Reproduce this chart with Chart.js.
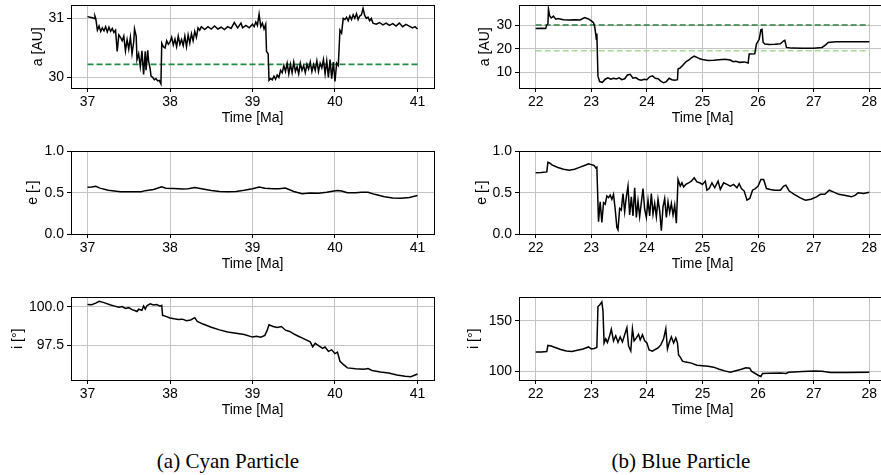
<!DOCTYPE html>
<html>
<head>
<meta charset="utf-8">
<script src="https://cdn.jsdelivr.net/npm/chart.js@4.4.1/dist/chart.umd.min.js"></script>
<style>
  html, body { margin: 0; padding: 0; background: #fff; overflow: hidden; width: 881px; height: 475px; }
  canvas { position: absolute; }
  .cap { position: absolute; font-family: "Liberation Serif", serif; font-size: 21px; line-height: 24px; white-space: nowrap; transform: translateX(-50%); color: #000; }
</style>
</head>
<body>
<canvas id="c1"></canvas>
<canvas id="c2"></canvas>
<canvas id="c3"></canvas>
<canvas id="c4"></canvas>
<canvas id="c5"></canvas>
<canvas id="c6"></canvas>
<div class="cap" style="left:228px; top:449px;">(a) Cyan Particle</div>
<div class="cap" style="left:681px; top:449px;">(b) Blue Particle</div>
<script>
// ---- cyan particle (left column) ----
const cyanTimeA = [37.00,37.03,37.06,37.08,37.09,37.10,37.12,37.14,37.16,37.18,37.20,37.22,37.24,37.26,37.28,37.30,37.32,37.34,37.36,37.38,
  37.40,37.42,37.44,37.46,37.48,37.50,37.52,37.54,37.56,37.57,37.59,37.60,37.62,37.64,37.66,37.68,37.70,37.71,37.73,37.74,
  37.76,37.77,37.79,37.81,37.83,37.85,37.87,37.89,37.90,37.92,37.94,37.96,37.98,38.00,38.02,38.04,38.06,38.08,38.10,38.12,
  38.14,38.16,38.18,38.20,38.22,38.24,38.26,38.28,38.30,38.32,38.34,38.36,38.38,38.42,38.46,38.50,38.54,38.58,38.62,38.66,
  38.70,38.74,38.78,38.82,38.86,38.88,38.92,38.96,39.00,39.02,39.04,39.06,39.08,39.10,39.12,39.14,39.16,39.17,39.19,39.20,
  39.22,39.24,39.26,39.28,39.30,39.32,39.34,39.36,39.38,39.40,39.42,39.44,39.46,39.48,39.50,39.52,39.54,39.56,39.58,39.60,
  39.62,39.64,39.66,39.68,39.70,39.72,39.74,39.76,39.78,39.80,39.82,39.84,39.86,39.88,39.90,39.92,39.94,39.96,39.98,40.00,
  40.02,40.04,40.06,40.08,40.10,40.12,40.14,40.16,40.18,40.20,40.22,40.24,40.26,40.28,40.30,40.32,40.34,40.36,40.38,40.40,
  40.42,40.44,40.46,40.50,40.54,40.58,40.62,40.66,40.70,40.74,40.78,40.82,40.86,40.90,40.94,40.97,41.00];
const cyanA = [31.03,31.02,31.01,31.00,31.04,31.00,30.80,30.87,30.78,30.84,30.79,30.86,30.77,30.85,30.78,30.83,30.76,30.80,30.44,30.72,
  30.68,30.62,30.70,30.45,30.64,30.48,30.68,30.40,30.60,30.82,30.70,30.30,30.40,30.18,30.45,30.05,30.44,30.12,30.46,30.28,
  30.14,30.02,30.00,29.96,29.98,29.94,29.95,29.89,30.58,30.52,30.50,30.62,30.56,30.60,30.68,30.55,30.65,30.52,30.70,30.56,
  30.64,30.54,30.70,30.52,30.72,30.58,30.74,30.62,30.78,30.68,30.84,30.80,30.86,30.81,30.86,30.82,30.87,30.82,30.85,30.81,
  30.86,30.83,30.93,30.84,30.92,30.84,30.88,30.84,30.90,30.86,30.94,30.88,31.07,30.86,30.92,30.82,30.90,30.44,30.40,29.95,
  29.98,29.96,30.02,29.97,30.04,30.00,30.12,30.08,30.20,30.10,30.24,30.06,30.22,30.08,30.26,30.10,30.18,30.06,30.24,30.12,
  30.20,30.08,30.22,30.14,30.26,30.10,30.22,30.12,30.28,30.10,30.24,30.16,30.30,30.06,30.28,30.00,30.30,29.98,30.26,29.93,
  30.24,30.20,30.80,30.75,31.00,30.98,31.02,30.96,31.04,30.98,31.06,31.00,31.08,30.98,31.04,31.06,31.17,31.05,31.00,31.02,
  30.96,31.00,30.92,30.90,30.93,30.89,30.92,30.88,30.91,30.87,30.92,30.86,30.90,30.87,30.84,30.86,30.82];
const cyanRefA = 30.22;

const cyanTimeE = [37.00,37.05,37.10,37.15,37.25,37.40,37.55,37.65,37.70,37.80,37.90,37.95,38.05,38.15,38.22,38.30,38.40,38.50,38.60,38.70,
  38.80,38.90,39.00,39.08,39.15,39.25,39.32,39.40,39.50,39.60,39.70,39.80,39.90,39.95,40.03,40.08,40.15,40.25,40.32,40.40,
  40.48,40.60,40.70,40.80,40.90,41.00];
const cyanE = [0.565,0.570,0.578,0.555,0.530,0.512,0.510,0.512,0.525,0.540,0.572,0.555,0.552,0.545,0.548,0.562,0.545,0.528,0.515,0.510,
  0.515,0.530,0.548,0.568,0.555,0.548,0.548,0.556,0.515,0.488,0.495,0.494,0.505,0.515,0.528,0.520,0.500,0.498,0.505,0.506,
  0.480,0.450,0.435,0.432,0.442,0.465];

const cyanTimeI = [37.00,37.05,37.10,37.14,37.20,37.28,37.33,37.38,37.42,37.46,37.50,37.54,37.58,37.60,37.62,37.66,37.68,37.70,37.72,37.76,
  37.80,37.84,37.88,37.90,37.91,37.95,38.00,38.05,38.10,38.15,38.20,38.25,38.30,38.33,38.40,38.50,38.60,38.70,38.80,38.90,
  39.00,39.05,39.10,39.15,39.18,39.20,39.25,39.30,39.35,39.40,39.45,39.50,39.55,39.60,39.65,39.70,39.73,39.76,39.80,39.85,
  39.88,39.92,39.96,40.00,40.03,40.06,40.10,40.15,40.25,40.35,40.40,40.45,40.55,40.65,40.75,40.85,40.92,41.00];
const cyanI = [100.15,100.14,100.25,100.36,100.28,100.12,100.05,99.98,100.02,99.90,99.95,99.82,99.75,99.70,99.85,99.78,100.05,99.85,100.08,100.20,
  100.12,100.15,100.05,100.10,99.45,99.38,99.28,99.22,99.18,99.20,99.10,99.15,99.30,99.05,98.88,98.67,98.50,98.36,98.28,98.20,
  98.03,98.08,98.02,98.14,98.50,98.83,98.72,98.65,98.72,98.48,98.40,98.24,98.10,97.98,97.85,97.72,97.40,97.62,97.48,97.30,
  97.38,97.10,97.20,96.95,97.05,96.45,96.25,96.02,95.96,95.93,95.98,95.85,95.75,95.68,95.55,95.48,95.45,95.62];

// ---- blue particle (right column) ----
const blueTimeA = [22.00,22.10,22.18,22.20,22.22,22.23,22.25,22.28,22.32,22.36,22.40,22.50,22.60,22.70,22.80,22.88,22.95,23.00,23.04,23.06,
  23.08,23.09,23.10,23.12,23.15,23.20,23.25,23.30,23.35,23.40,23.45,23.50,23.55,23.60,23.65,23.70,23.75,23.80,23.85,23.90,
  23.95,24.00,24.05,24.10,24.15,24.20,24.25,24.30,24.35,24.40,24.45,24.50,24.55,24.56,24.60,24.65,24.70,24.75,24.80,24.85,
  24.90,24.95,25.00,25.10,25.20,25.30,25.40,25.50,25.55,25.60,25.67,25.75,25.82,25.84,25.94,25.97,26.02,26.05,26.07,26.09,
  26.12,26.20,26.30,26.40,26.46,26.48,26.51,26.60,26.80,27.00,27.15,27.22,27.26,27.40,27.60,27.80,28.00];
const blueA = [28.6,28.7,28.6,30.0,30.5,36.8,34.0,33.0,33.8,32.5,32.8,32.3,32.1,32.3,32.2,33.2,32.6,31.8,31.0,29.5,
  26.2,24.0,26.5,8.5,6.2,5.9,7.2,7.8,7.2,7.6,7.3,7.8,7.0,7.4,9.0,9.3,7.6,7.9,7.1,6.8,
  7.2,7.0,8.2,8.6,7.6,7.4,6.4,5.7,6.2,7.6,7.0,6.8,7.0,11.5,12.0,13.2,14.5,15.2,16.2,16.9,
  16.4,15.8,15.5,15.1,15.2,15.4,15.6,15.3,14.6,14.8,14.3,14.5,14.0,17.8,17.9,22.0,24.0,28.0,28.2,22.8,
  22.0,21.8,21.9,22.1,23.4,23.6,20.6,20.3,20.2,20.2,20.6,21.8,22.7,23.0,23.0,23.0,23.0];
const blueRefNeptune = 30.07;
const blueRefUranus = 19.19;

const blueTimeE = [22.00,22.10,22.20,22.22,22.25,22.30,22.40,22.50,22.60,22.70,22.80,22.90,22.95,23.00,23.05,23.08,23.10,23.13,23.16,23.19,
  23.22,23.25,23.28,23.31,23.34,23.37,23.40,23.43,23.46,23.48,23.51,23.54,23.57,23.60,23.63,23.66,23.69,23.72,23.75,23.78,
  23.81,23.84,23.87,23.90,23.93,23.96,23.99,24.02,24.05,24.08,24.11,24.14,24.17,24.20,24.23,24.26,24.29,24.32,24.35,24.38,
  24.41,24.44,24.47,24.50,24.53,24.56,24.60,24.63,24.66,24.70,24.75,24.80,24.85,24.90,24.95,25.00,25.05,25.08,25.12,25.17,
  25.22,25.28,25.32,25.38,25.44,25.50,25.56,25.62,25.66,25.70,25.75,25.80,25.85,25.90,25.95,26.00,26.05,26.10,26.15,26.22,
  26.30,26.40,26.46,26.50,26.56,26.65,26.75,26.85,26.95,27.05,27.12,27.20,27.28,27.35,27.45,27.55,27.68,27.75,27.80,27.90,28.00];
const blueE = [0.743,0.745,0.752,0.868,0.860,0.834,0.805,0.783,0.772,0.785,0.810,0.835,0.850,0.840,0.830,0.800,0.810,0.15,0.39,0.14,
  0.38,0.36,0.46,0.44,0.47,0.42,0.48,0.30,0.08,0.05,0.31,0.29,0.49,0.27,0.45,0.58,0.23,0.45,0.22,0.56,
  0.20,0.40,0.21,0.38,0.55,0.30,0.20,0.41,0.22,0.49,0.24,0.37,0.21,0.42,0.28,0.04,0.33,0.43,0.20,0.39,
  0.26,0.37,0.23,0.35,0.13,0.66,0.58,0.62,0.57,0.60,0.62,0.64,0.68,0.63,0.62,0.60,0.64,0.53,0.55,0.62,
  0.56,0.64,0.54,0.62,0.60,0.58,0.60,0.56,0.61,0.55,0.52,0.41,0.43,0.53,0.55,0.58,0.66,0.66,0.55,0.54,
  0.53,0.53,0.58,0.59,0.52,0.48,0.44,0.41,0.42,0.45,0.48,0.48,0.53,0.51,0.48,0.47,0.45,0.47,0.50,0.49,0.505];

const blueTimeI = [22.00,22.10,22.20,22.22,22.28,22.35,22.45,22.55,22.65,22.75,22.85,22.95,23.00,23.05,23.10,23.12,23.15,23.19,23.21,23.23,
  23.26,23.29,23.33,23.36,23.40,23.44,23.48,23.52,23.56,23.60,23.64,23.67,23.71,23.74,23.77,23.81,23.85,23.88,23.92,23.96,
  24.00,24.04,24.10,24.15,24.20,24.25,24.30,24.34,24.37,24.40,24.44,24.48,24.52,24.55,24.57,24.60,24.64,24.70,24.80,24.90,
  25.00,25.10,25.20,25.30,25.40,25.50,25.60,25.70,25.78,25.85,25.88,26.00,26.05,26.08,26.20,26.40,26.50,26.55,26.80,27.00,
  27.15,27.30,27.60,28.00];
const blueI = [118.9,119.0,119.5,125.5,125.0,123.5,121.5,120.0,119.6,120.8,122.0,124.0,122.0,122.5,123.5,164.0,165.5,168.5,160.0,128.0,
  132.0,128.5,135.0,141.5,130.0,135.0,128.5,134.0,129.0,136.0,143.0,125.0,120.0,142.0,130.0,133.0,136.5,131.0,136.0,130.0,
  128.0,121.0,119.8,121.5,123.0,126.0,132.0,142.0,122.0,128.0,134.0,128.0,133.0,128.0,116.0,114.0,110.0,109.0,108.0,106.0,
  105.5,105.0,104.0,102.0,100.3,99.0,100.5,102.0,103.5,103.0,100.0,96.0,94.8,97.8,98.0,98.3,97.8,99.0,99.8,100.3,
  100.0,98.8,98.7,99.0];

// tick values
const cyanTimeTicks = [37, 38, 39, 40, 41];
const blueTimeTicks = [22, 23, 24, 25, 26, 27, 28];
const cyanATicks = [30, 31];
const blueATicks = [10, 20, 30];
const eTicks = [0.0, 0.5, 1.0];
const cyanITicks = [97.5, 100.0];
const blueITicks = [100, 150];

const FONT = "'Liberation Sans', Arial, sans-serif";

// matplotlib-style box around the axes
const frame = {
  id: 'frame',
  afterDatasetsDraw(chart) {
    const a = chart.chartArea, c = chart.ctx;
    c.save();
    c.strokeStyle = '#000';
    c.lineWidth = 1;
    c.strokeRect(Math.round(a.left) + 0.5, Math.round(a.top) + 0.5,
      Math.round(a.right - a.left), Math.round(a.bottom - a.top));
    c.restore();
  }
};

function pts(xs, ys) { return xs.map((x, i) => ({ x: x, y: ys[i] })); }

function panel(id, pos, o) {
  const cv = document.getElementById(id);
  cv.width = pos.w; cv.height = pos.h;
  cv.style.left = pos.x + 'px'; cv.style.top = pos.y + 'px';
  cv.style.width = pos.w + 'px'; cv.style.height = pos.h + 'px';
  const datasets = [{
    data: pts(o.t, o.v), borderColor: '#000', borderWidth: 1.5,
    pointRadius: 0, tension: 0, fill: false, order: 0
  }];
  (o.refs || []).forEach(r => datasets.push({
    data: [{ x: o.t[0], y: r.v }, { x: o.t[o.t.length - 1], y: r.v }],
    borderColor: r.c, borderWidth: 1.6, borderDash: [6, 3],
    pointRadius: 0, fill: false, order: 1
  }));
  return new Chart(cv.getContext('2d'), {
    type: 'line',
    data: { datasets: datasets },
    options: {
      responsive: false, animation: false, devicePixelRatio: 1,
      layout: { padding: { top: 10, right: pos.pr, left: 0, bottom: 0 } },
      plugins: { legend: { display: false }, tooltip: { enabled: false } },
      scales: {
        x: {
          type: 'linear', min: o.xmin, max: o.xmax,
          afterBuildTicks: s => { s.ticks = o.xt.map(v => ({ value: v })); },
          afterFit: s => { s.height = 42; },
          grid: { color: '#c4c4c4', lineWidth: 1, tickColor: '#000', tickLength: 4 },
          border: { color: '#000', width: 1 },
          ticks: { color: '#000', font: { family: FONT, size: 14 }, padding: 2, maxRotation: 0,
            callback: v => String(v) },
          title: { display: true, text: 'Time [Ma]', color: '#000', font: { family: FONT, size: 14 },
            padding: { top: 0, bottom: 3 } }
        },
        y: {
          min: o.ymin, max: o.ymax,
          afterBuildTicks: s => { s.ticks = o.yt.map(v => ({ value: v })); },
          afterFit: s => { s.width = pos.yw; },
          grid: { color: '#c4c4c4', lineWidth: 1, tickColor: '#000', tickLength: 4 },
          border: { color: '#000', width: 1 },
          ticks: { color: '#000', font: { family: FONT, size: 14 }, padding: 3,
            callback: v => v.toFixed(o.dec) },
          title: { display: true, text: o.label, color: '#000', font: { family: FONT, size: 14 },
            padding: { top: o.tp, bottom: 0 } }
        }
      }
    },
    plugins: [frame]
  });
}

const L = { x: 0, w: 440, h: 136, yw: 71, pr: 6 };
const R = { x: 440, w: 450, h: 136, yw: 79, pr: 4 };

panel('c1', Object.assign({}, L, { y: -6 }), { t: cyanTimeA, v: cyanA, xmin: 36.8, xmax: 41.2, xt: cyanTimeTicks,
  ymin: 29.82, ymax: 31.22, yt: cyanATicks, dec: 0, label: 'a [AU]', tp: 29.6,
  refs: [{ v: cyanRefA, c: '#238b45' }] });
panel('c2', Object.assign({}, L, { y: 140 }), { t: cyanTimeE, v: cyanE, xmin: 36.8, xmax: 41.2, xt: cyanTimeTicks,
  ymin: 0, ymax: 1, yt: eTicks, dec: 1, label: 'e [-]', tp: 25 });
panel('c3', Object.assign({}, L, { y: 286 }), { t: cyanTimeI, v: cyanI, xmin: 36.8, xmax: 41.2, xt: cyanTimeTicks,
  ymin: 95.23, ymax: 100.62, yt: cyanITicks, dec: 1, label: 'i [°]', tp: 9.6 });

panel('c4', Object.assign({}, R, { y: -6 }), { t: blueTimeA, v: blueA, xmin: 21.7, xmax: 28.3, xt: blueTimeTicks,
  ymin: 3.5, ymax: 38.3, yt: blueATicks, dec: 0, label: 'a [AU]', tp: 36.3,
  refs: [{ v: blueRefNeptune, c: '#2e7d3e' }, { v: blueRefUranus, c: '#a8d89c' }] });
panel('c5', Object.assign({}, R, { y: 140 }), { t: blueTimeE, v: blueE, xmin: 21.7, xmax: 28.3, xt: blueTimeTicks,
  ymin: 0, ymax: 1, yt: eTicks, dec: 1, label: 'e [-]', tp: 34 });
panel('c6', Object.assign({}, R, { y: 286 }), { t: blueTimeI, v: blueI, xmin: 21.7, xmax: 28.3, xt: blueTimeTicks,
  ymin: 91.3, ymax: 173, yt: blueITicks, dec: 0, label: 'i [°]', tp: 25.6 });
</script>
</body>
</html>
